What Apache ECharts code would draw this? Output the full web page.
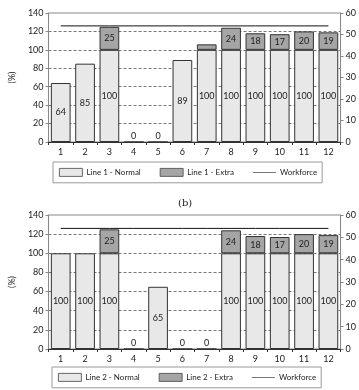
<!DOCTYPE html>
<html>
<head>
<meta charset="utf-8">
<script src="https://cdn.jsdelivr.net/npm/echarts@6/dist/echarts.min.js"></script>
<style>
html,body{margin:0;padding:0;background:#fff;}
#mycharts{width:359px;height:390px;}
</style>
</head>
<body>
<div id="mycharts"></div>
<script>
// data
const months = ['1','2','3','4','5','6','7','8','9','10','11','12'];
const line1Normal = [64, 85, 100, 0, 0, 89, 100, 100, 100, 100, 100, 100];
const line1Extra  = [0, 0, 25, 0, 0, 0, 6, 24, 18, 17, 20, 19];
const line2Normal = [100, 100, 100, 0, 65, 0, 0, 100, 100, 100, 100, 100];
const line2Extra  = [0, 0, 25, 0, 0, 0, 0, 24, 18, 17, 20, 19];
const workforce1  = [54, 54, 54, 54, 54, 54, 54, 54, 54, 54, 54, 54];
const workforce2  = [54, 54, 54, 54, 54, 54, 54, 54, 54, 54, 54, 54];
const leftTicks = [0, 140, 20];
const rightTicks = [0, 60, 10];

const FONT = 'Lato';
const txt = {color:'#222', fontFamily:FONT, fontSize:9};

// normal bars: label in middle, zero shown just above base
function normalData(arr){
  return arr.map(v => v === 0
    ? {value:v, label:{position:'top', distance:1}}
    : v);
}
// extra bars: no bar for zero
function extraData(arr){
  return arr.map(v => v === 0 ? '-' : v);
}

const mCharts = echarts.init(document.getElementById('mycharts'));

function xAxisCfg(gridIndex){
  return {
    type:'category', gridIndex:gridIndex, data:months,
    axisLine:{lineStyle:{color:'#333', width:1}},
    axisTick:{show:true, length:3, lineStyle:{color:'#333'}},
    axisLabel:Object.assign({margin:6}, txt)
  };
}
function leftCfg(gridIndex){
  return {
    type:'value', gridIndex:gridIndex, min:leftTicks[0], max:leftTicks[1], interval:leftTicks[2],
    name:'(%)', nameLocation:'middle', nameGap:21, nameRotate:90,
    nameTextStyle:Object.assign({}, txt),
    axisLine:{show:true, lineStyle:{color:'#888'}},
    axisTick:{show:true, length:3, lineStyle:{color:'#888'}},
    axisLabel:Object.assign({margin:5}, txt),
    splitLine:{show:true, lineStyle:{type:[3,2], width:0.8,
      color:['transparent','#555','#555','#555','#555','#555','#555','transparent']}}
  };
}
function rightCfg(gridIndex){
  return {
    type:'value', gridIndex:gridIndex, position:'right',
    min:rightTicks[0], max:rightTicks[1], interval:rightTicks[2],
    axisLine:{show:true, lineStyle:{color:'#888'}},
    axisTick:{show:true, length:3, lineStyle:{color:'#888'}},
    axisLabel:Object.assign({margin:5}, txt),
    splitLine:{show:false}
  };
}
function barSeries(name, data, xi, yi, stack, color, isExtra){
  return {
    name:name, type:'bar', xAxisIndex:xi, yAxisIndex:yi, stack:stack,
    data:data, barCategoryGap:'19%',
    itemStyle:{color:color, borderColor:'#333', borderWidth:1},
    label:Object.assign({
      show:true, position:'inside',
      formatter:p => (isExtra && !(p.value >= 10)) ? '' : String(p.value)
    }, txt),
    emphasis:{disabled:true}
  };
}
function lineSeries(name, data, xi, yi){
  return {
    name:name, type:'line', xAxisIndex:xi, yAxisIndex:yi, data:data,
    symbol:'none', lineStyle:{color:'#111', width:1}, itemStyle:{color:'#111'}
  };
}
function legendCfg(top, left, names){
  return {
    top:top, left:left,
    data:[
      {name:names[0], icon:'rect', itemStyle:{borderWidth:0.8, borderColor:'#444'}},
      {name:names[1], icon:'rect', itemStyle:{borderWidth:0.8, borderColor:'#444'}},
      {name:'Workforce', icon:'path://M0,0 L40,0 L40,1 L0,1 Z', itemStyle:{color:'#111', borderWidth:0}}
    ],
    itemWidth:23, itemHeight:8, itemGap:19,
    padding:[6,5,6,6],
    borderColor:'#999', borderWidth:1,
    textStyle:Object.assign({}, txt, {fontSize:8, padding:[0,0,0,-1]}),
    selectedMode:false
  };
}

const NORMAL = '#e8e8e8', EXTRA = '#a5a5a5';

const option = {
  animation:false,
  title:[{text:'(b)', left:173, top:193, textStyle:{fontFamily:'DejaVu Serif', fontSize:10, fontWeight:'normal', color:'#222'}}],
  grid:[
    {left:32, right:16, top:13, height:129, show:true, borderColor:'#888', borderWidth:1},
    {left:26, right:13, top:215, height:134, show:true, borderColor:'#888', borderWidth:1}
  ],
  xAxis:[xAxisCfg(0), xAxisCfg(1)],
  yAxis:[leftCfg(0), rightCfg(0), leftCfg(1), rightCfg(1)],
  legend:[
    legendCfg(162, 53, ['Line 1 - Normal','Line 1 - Extra']),
    legendCfg(367, 52, ['Line 2 - Normal','Line 2 - Extra'])
  ],
  series:[
    barSeries('Line 1 - Normal', normalData(line1Normal), 0, 0, 'a', NORMAL, false),
    barSeries('Line 1 - Extra', extraData(line1Extra), 0, 0, 'a', EXTRA, true),
    lineSeries('Workforce', workforce1, 0, 1),
    barSeries('Line 2 - Normal', normalData(line2Normal), 1, 2, 'b', NORMAL, false),
    barSeries('Line 2 - Extra', extraData(line2Extra), 1, 2, 'b', EXTRA, true),
    lineSeries('Workforce', workforce2, 1, 3)
  ]
};
mCharts.setOption(option);
</script>
</body>
</html>
